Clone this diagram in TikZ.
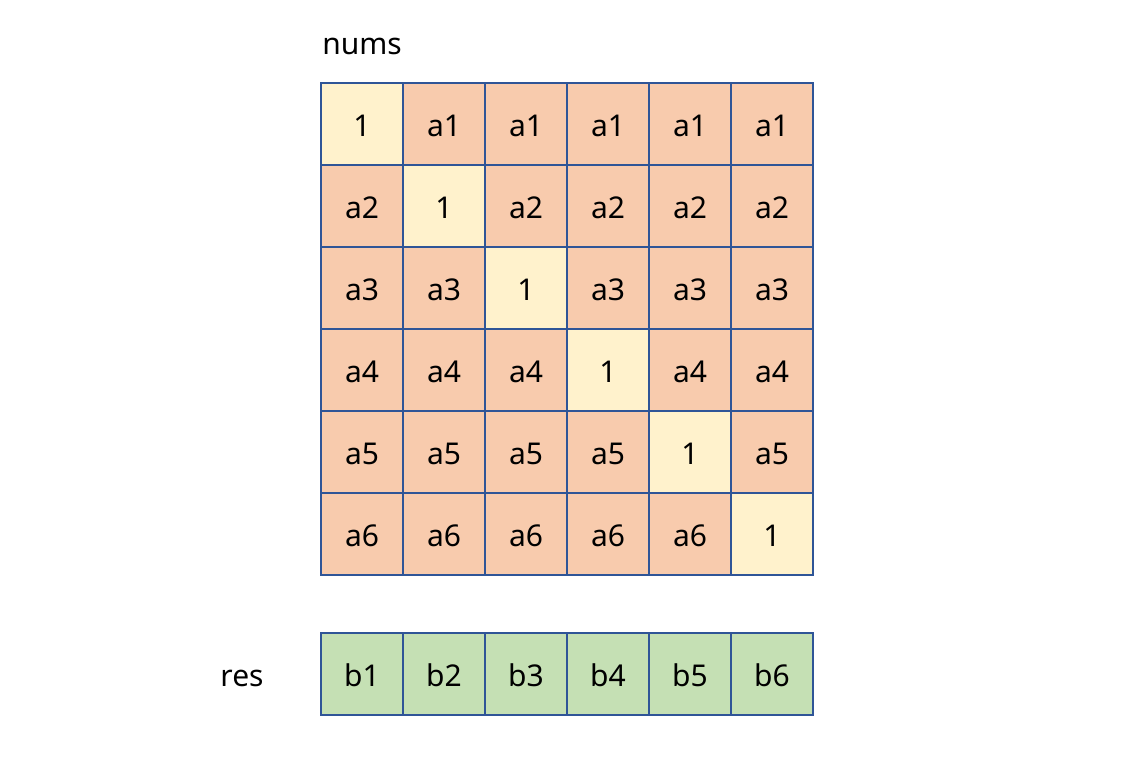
\documentclass[tikz,border=0pt]{standalone}
\usepackage{fontspec}
\setmainfont{Noto Sans}
\definecolor{orng}{HTML}{F8CBAD}
\definecolor{ylw}{HTML}{FFF2CC}
\definecolor{grn}{HTML}{C5E0B4}
\definecolor{bdr}{HTML}{2F5597}
\begin{document}
\begin{tikzpicture}[x=0.75pt,y=-0.75pt,
  cell/.style={draw=bdr,line width=1.5pt,minimum width=61.5pt,minimum height=61.5pt,inner sep=0pt,font=\fontsize{22.5}{26}\selectfont,text=black,text height=19pt,text depth=0pt},
  lbl/.style={font=\fontsize{22.5}{26}\selectfont,text=black}]
\useasboundingbox (0,0) rectangle (1141,758);
\foreach \r in {1,...,6}{
  \foreach \c in {1,...,6}{
    \ifnum\r=\c
      \node[cell,fill=ylw] (m\r\c) at ({321+82*(\c-1)+41},{83+82*(\r-1)+41}) {1};
    \else
      \node[cell,fill=orng] (m\r\c) at ({321+82*(\c-1)+41},{83+82*(\r-1)+41}) {a\r};
    \fi
  }
}
\foreach \c in {1,...,6}{
  \node[cell,fill=grn] (b\c) at ({321+82*(\c-1)+41},674) {b\c};
}
\node[lbl] (nums) at (362,46) {nums};
\node[lbl] (res) at (242,678) {res};
\end{tikzpicture}
\end{document}
